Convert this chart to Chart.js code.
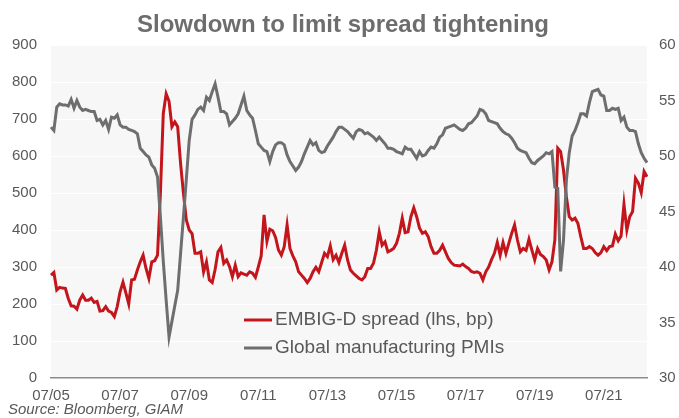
<!DOCTYPE html>
<html>
<head>
<meta charset="utf-8">
<script src="https://cdn.jsdelivr.net/npm/chart.js@4"></script>
<style>
  body { margin: 0; background: #fff; }
  #wrap { width: 679px; height: 418px; position: relative; }
</style>
</head>
<body>
<div id="wrap"><canvas id="chart"></canvas></div>
<script>
// Monthly data, 07/2005 .. 10/2022
const startYear = 2005;
const startMonth = 7;

// EMBIG-D spread, bp (left axis)
const spread = [
  278,285,238,245,243,242,215,195,194,186,
  211,224,210,210,216,204,207,181,182,193,
  181,177,166,193,233,259,230,200,265,267,
  292,314,332,296,269,314,317,332,500,715,
  768,748,679,692,679,580,499,427,400,390,
  337,337,341,287,314,265,258,293,341,353,
  310,319,301,274,305,274,284,281,278,287,
  283,272,300,330,441,369,402,398,380,346,
  332,355,414,350,330,314,287,278,269,258,
  269,287,299,287,312,337,328,357,320,332,
  312,337,359,319,292,283,276,269,265,274,
  296,296,310,345,395,359,368,341,345,350,
  364,391,432,393,395,436,460,436,405,391,
  395,382,355,337,337,345,359,341,323,312,
  305,304,303,308,301,296,288,285,287,283,
  265,287,300,320,337,366,332,366,337,364,
  391,414,373,341,350,345,375,346,319,350,
  334,328,319,292,314,373,621,612,562,490,
  436,427,432,418,382,350,350,355,350,339,
  332,339,355,344,355,357,389,371,384,470,
  400,436,450,540,527,501,558,544
];

// Global manufacturing PMI (right axis)
const pmi = [
  52.6,52.3,54.4,54.7,54.6,54.6,54.5,55.1,54.3,55.0,
  54.4,54.1,54.2,54.1,54.0,54.0,53.2,53.3,52.8,53.2,
  52.4,53.5,53.4,53.7,52.8,52.6,52.6,52.4,52.3,52.2,
  52.0,50.7,50.4,50.1,49.9,49.2,48.9,48.1,44.5,40.5,
  37.0,33.7,35.1,36.5,37.9,41.2,44.5,47.9,51.4,53.3,
  53.7,54.2,54.4,54.1,55.3,55.0,55.8,56.5,55.3,54.0,
  54.0,53.8,52.8,53.1,53.4,53.8,54.6,55.4,54.1,53.7,
  53.4,52.3,51.1,50.8,50.5,50.4,49.5,50.4,51.0,51.2,
  51.2,51.0,50.1,49.5,49.1,48.7,49.0,49.5,50.2,50.8,
  51.4,51.0,51.2,50.5,50.3,50.4,50.9,51.3,51.7,52.2,
  52.6,52.6,52.4,52.2,51.9,51.6,52.2,52.4,52.3,52.0,
  52.1,51.9,51.7,51.4,51.7,51.4,51.1,50.7,50.7,50.6,
  50.4,50.3,50.2,50.8,50.6,50.6,50.2,49.8,50.4,50.0,
  50.1,50.5,50.8,50.7,51.1,51.7,51.9,52.5,52.6,52.7,
  52.8,52.6,52.4,52.3,52.5,52.9,53.0,53.3,53.6,54.2,
  54.1,53.8,53.2,53.1,53.0,52.9,52.5,52.2,52.0,51.9,
  51.6,51.2,50.7,50.5,50.4,50.3,49.8,49.4,49.3,49.6,
  49.8,50.0,50.3,50.2,50.4,47.2,47.1,39.6,42.4,47.8,
  50.3,51.8,52.3,53.0,53.8,53.8,53.6,54.8,55.8,55.9,
  56.0,55.5,55.4,54.1,54.1,54.3,54.2,54.3,53.2,53.5,
  52.6,52.3,52.3,52.2,51.1,50.3,49.8,49.4
];

// x tick labels, every 24 months
const xTicks = ["07/05","07/07","07/09","07/11","07/13","07/15","07/17","07/19","07/21"];

// month labels "MM/YY"
const months = [];
for (let i = 0; i < spread.length; i++) {
    const m = (startMonth - 1 + i) % 12 + 1;
    const y = startYear + Math.floor((startMonth - 1 + i) / 12);
    months.push(String(m).padStart(2, "0") + "/" + String(y % 100).padStart(2, "0"));
}

const FONT = "'Liberation Sans', Arial, sans-serif";
const RED = "#c3161c";
const GREY = "#6e6e6e";
const TEXT = "#595959";

const decor = {
    id: "decor",
    beforeDraw(chart) {
        const { ctx, chartArea: a } = chart;
        ctx.save();
        ctx.fillStyle = "#f7f7f7";
        ctx.fillRect(a.left, a.top, a.right - a.left, a.bottom - a.top);
        ctx.restore();
    },
    afterDraw(chart) {
        const { ctx } = chart;
        ctx.save();
        // title
        ctx.fillStyle = "#6d6d6d";
        ctx.font = "bold 24px " + FONT;
        ctx.textAlign = "center";
        ctx.textBaseline = "alphabetic";
        ctx.fillText("Slowdown to limit spread tightening", 343, 32);

        // legend
        const items = [
            { text: "EMBIG-D spread (lhs, bp)", color: RED, y: 320 },
            { text: "Global manufacturing PMIs", color: GREY, y: 348 }
        ];
        ctx.font = "19px " + FONT;
        ctx.textAlign = "left";
        ctx.textBaseline = "middle";
        items.forEach(it => {
            ctx.strokeStyle = it.color;
            ctx.lineWidth = 3;
            ctx.beginPath();
            ctx.moveTo(244, it.y);
            ctx.lineTo(272, it.y);
            ctx.stroke();
            ctx.fillStyle = TEXT;
            ctx.fillText(it.text, 275, it.y);
        });

        // source
        ctx.font = "italic 15px " + FONT;
        ctx.fillStyle = TEXT;
        ctx.fillText("Source: Bloomberg, GIAM", 8, 410);
        ctx.restore();
    }
};

new Chart(document.getElementById("chart"), {
    type: "line",
    data: {
        labels: months,
        datasets: [{
            label: "EMBIG-D spread (lhs, bp)",
            data: spread,
            borderColor: RED,
            borderWidth: 3,
            pointRadius: 0,
            tension: 0,
            yAxisID: "y",
            order: 2
        }, {
            label: "Global manufacturing PMIs",
            data: pmi,
            borderColor: GREY,
            borderWidth: 3,
            pointRadius: 0,
            tension: 0,
            yAxisID: "y2",
            order: 1
        }]
    },
    options: {
        responsive: true,
        maintainAspectRatio: false,
        animation: false,
        layout: { padding: { top: 45, right: 0, bottom: 18, left: 0 } },
        plugins: {
            legend: { display: false },
            title: { display: false },
            tooltip: { enabled: false }
        },
        scales: {
            x: {
                offset: false,
                grid: { display: false },
                border: { display: true, color: "#8c8c8c", width: 1.5 },
                afterBuildTicks: axis => {
                    axis.ticks = axis.ticks.filter(t => t.value % 24 === 0);
                },
                afterFit: scale => { scale.height = 22; },
                ticks: {
                    autoSkip: false,
                    maxRotation: 0,
                    minRotation: 0,
                    padding: 1,
                    color: TEXT,
                    font: { family: FONT, size: 15 },
                    callback: (value) => xTicks[value / 24]
                }
            },
            y: {
                position: "left",
                min: 0,
                max: 900,
                border: { display: false },
                grid: { color: "#ffffff", lineWidth: 1, drawTicks: false },
                afterFit: scale => { scale.width = 51; },
                ticks: {
                    stepSize: 100,
                    padding: 14,
                    color: TEXT,
                    font: { family: FONT, size: 15 }
                }
            },
            y2: {
                position: "right",
                min: 30,
                max: 60,
                border: { display: false },
                grid: { display: false, drawTicks: false },
                afterFit: scale => { scale.width = 32; },
                ticks: {
                    stepSize: 5,
                    padding: 12,
                    color: TEXT,
                    font: { family: FONT, size: 15 }
                }
            }
        }
    },
    plugins: [decor]
});
</script>
</body>
</html>
